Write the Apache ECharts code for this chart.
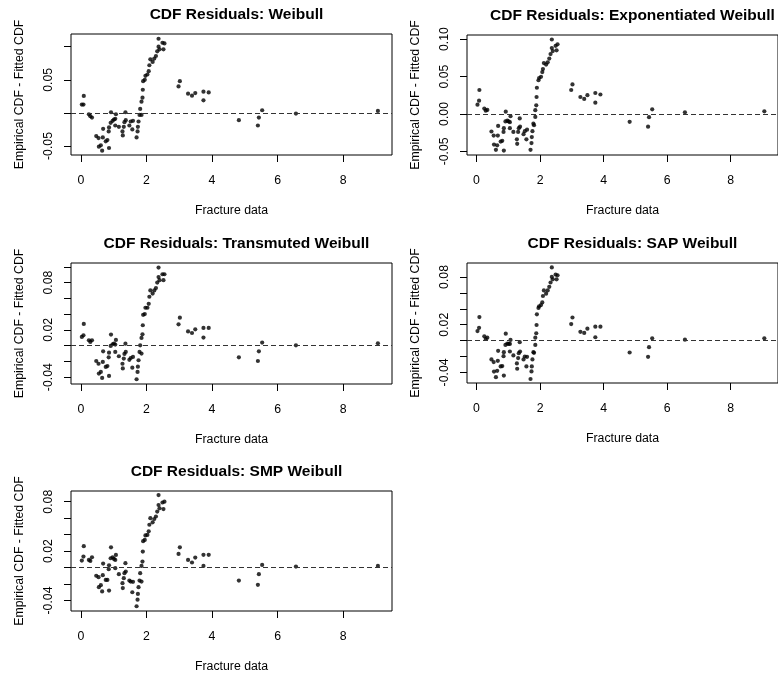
<!DOCTYPE html>
<html><head><meta charset="utf-8">
<script src="https://cdn.jsdelivr.net/npm/echarts@6/dist/echarts.min.js"></script>
<style>html,body{margin:0;padding:0;background:#fff}#c{width:778px;height:678px}</style>
</head><body><div id="c"></div>
<script>
// Fracture data (x values shared by all panels)
const fractureData = [0.03,0.08,0.09,0.245,0.29,0.34,0.47,0.54,0.55,0.61,0.65,0.67,0.68,0.76,0.81,0.85,0.86,0.86,0.91,0.92,
  0.97,1.01,1.05,1.07,1.05,1.16,1.27,1.28,1.31,1.33,1.36,1.37,1.48,1.52,1.57,1.59,1.70,1.73,1.74,1.76,
  1.79,1.81,1.85,1.85,1.88,1.89,1.90,1.95,1.97,2.03,2.07,2.09,2.12,2.19,2.24,2.29,2.33,2.37,2.37,2.40,
  2.49,2.52,2.55,2.98,3.02,3.27,3.39,3.49,3.74,3.74,3.90,4.82,5.40,5.43,5.53,6.56,9.06];

const resWeibull = [0.0126,0.0126,0.0257,-0.002,-0.005,-0.007,-0.035,-0.038,-0.051,-0.049,-0.057,-0.037,-0.024,-0.043,-0.041,-0.028,-0.022,-0.053,-0.015,0.001,
  -0.012,-0.010,-0.009,-0.002,-0.019,-0.021,-0.028,-0.034,-0.021,-0.014,0.001,-0.011,-0.019,-0.013,-0.025,-0.012,-0.037,-0.028,-0.021,-0.013,
  -0.003,0.006,-0.003,0.017,0.023,0.035,0.048,0.050,0.056,0.058,0.063,0.072,0.081,0.077,0.082,0.086,0.093,0.100,0.112,0.096,
  0.106,0.096,0.105,0.040,0.048,0.029,0.026,0.030,0.032,0.019,0.031,-0.011,-0.019,-0.007,0.004,-0.001,0.003];

const resExpWeibull = [0.0124,0.0177,0.032,0.0071,0.0044,0.0053,-0.0235,-0.029,-0.041,-0.048,-0.042,-0.029,-0.016,-0.037,-0.036,-0.024,-0.019,-0.049,-0.010,0.003,
  -0.009,-0.010,-0.011,-0.003,-0.019,-0.024,-0.034,-0.040,-0.024,-0.019,-0.006,-0.017,-0.027,-0.023,-0.034,-0.021,-0.048,-0.039,-0.031,-0.023,
  -0.013,-0.015,-0.004,0.005,0.0115,0.0226,0.035,0.045,0.048,0.0496,0.056,0.060,0.068,0.066,0.069,0.074,0.080,0.088,0.0995,0.084,
  0.091,0.085,0.093,0.032,0.0394,0.0226,0.020,0.025,0.028,0.015,0.026,-0.0106,-0.017,-0.0044,0.0062,0.0022,0.0035];

const resTransWeibull = [0.011,0.013,0.0275,0.0068,0.0047,0.0068,-0.0195,-0.023,-0.0355,-0.0334,-0.041,-0.0207,-0.0072,-0.027,-0.026,-0.0148,-0.0089,-0.0385,-0.0004,0.014,
  0.0017,0.0025,0.0013,0.0072,-0.008,-0.0135,-0.023,-0.029,-0.0165,-0.0106,0.0025,-0.008,-0.018,-0.0157,-0.028,-0.0144,-0.0427,-0.0334,-0.0267,-0.0186,
  -0.008,0.0004,-0.0101,0.0097,0.0144,0.0258,0.039,0.040,0.048,0.048,0.053,0.062,0.070,0.066,0.070,0.073,0.080,0.087,0.099,0.083,
  0.0905,0.083,0.0905,0.027,0.0355,0.018,0.016,0.0207,0.0224,0.0102,0.0224,-0.0148,-0.0195,-0.0072,0.0038,0.0004,0.003];

const resSAPWeibull = [0.012,0.016,0.0296,0.0054,0.002,0.0037,-0.0237,-0.027,-0.039,-0.046,-0.038,-0.0254,-0.0129,-0.0325,-0.032,-0.0196,-0.0146,-0.044,-0.0054,0.0087,
  -0.0037,-0.0042,-0.0042,0.0008,-0.0137,-0.0187,-0.0287,-0.0354,-0.022,-0.0158,-0.002,-0.0137,-0.0237,-0.020,-0.0325,-0.0204,-0.0483,-0.0387,-0.0325,-0.0237,
  -0.0146,-0.0154,-0.0054,0.0037,0.0092,0.0196,0.033,0.041,0.043,0.0446,0.048,0.056,0.063,0.059,0.063,0.0675,0.073,0.080,0.092,0.077,
  0.083,0.077,0.082,0.0208,0.029,0.011,0.0096,0.015,0.0175,0.0042,0.0175,-0.015,-0.0204,-0.0083,0.0029,0.0012,0.0029];

const resSMPWeibull = [0.0085,0.0133,0.026,0.0093,0.008,0.0125,-0.010,-0.0117,-0.0238,-0.0214,-0.029,-0.0093,0.0048,-0.015,-0.015,-0.002,0.0028,-0.028,0.0113,0.0246,
  0.0125,0.0105,0.0093,0.0153,-0.0008,-0.0081,-0.019,-0.025,-0.0129,-0.0069,0.0053,-0.0048,-0.0158,-0.017,-0.030,-0.0174,-0.047,-0.039,-0.032,-0.0238,
  -0.0158,-0.0069,-0.017,0.002,0.0073,0.0194,0.032,0.0335,0.039,0.0396,0.044,0.052,0.060,0.055,0.059,0.062,0.068,0.076,0.088,0.072,
  0.079,0.071,0.080,0.0166,0.0246,0.0093,0.0061,0.0121,0.0154,0.002,0.0154,-0.0158,-0.021,-0.0081,0.0032,0.0012,0.002];

const panelTitles = ["CDF Residuals: Weibull","CDF Residuals: Exponentiated Weibull","CDF Residuals: Transmuted Weibull","CDF Residuals: SAP Weibull","CDF Residuals: SMP Weibull"];
const xAxisTitle = "Fracture data";
const yAxisTitle = "Empirical CDF - Fitted CDF";
const xTicks = [0,2,4,6,8];
const yTicks1 = [-0.05,0,0.05,0.10];          const yLabels1 = [-0.05,0.05];
const yTicks2 = [-0.05,0,0.05,0.10];          const yLabels2 = [-0.05,0,0.05,0.10];
const yTicks3 = [-0.04,-0.02,0,0.02,0.04,0.06,0.08,0.10]; const yLabels3 = [-0.04,0.02,0.08];
const yTicks4 = [-0.04,-0.02,0,0.02,0.04,0.06,0.08];      const yLabels4 = [-0.04,0.02,0.08];
const yTicks5 = [-0.04,-0.02,0,0.02,0.04,0.06,0.08];      const yLabels5 = [-0.04,0.02,0.08];

const seriesList = [resWeibull,resExpWeibull,resTransWeibull,resSAPWeibull,resSMPWeibull];
const yTickList = [yTicks1,yTicks2,yTicks3,yTicks4,yTicks5];
const yLabelList = [yLabels1,yLabels2,yLabels3,yLabels4,yLabels5];

// layout (pixels) and axis ranges
const layout = [
  {left:71, top:34, width:321, height:121, ymin:-0.0636, ymax:0.1192},
  {left:467, top:35, width:321, height:120, ymin:-0.0549, ymax:0.1055},
  {left:71, top:263, width:321, height:121, ymin:-0.0487, ymax:0.1048},
  {left:467, top:263, width:321, height:120, ymin:-0.0533, ymax:0.0975},
  {left:71, top:491, width:321, height:120, ymin:-0.0528, ymax:0.093}
];
const XMIN = -0.30, XMAX = 9.49;
const FONT = "'Liberation Sans', Arial, sans-serif";

const grids = [], xAxes = [], yAxes = [], series = [], titles = [];
layout.forEach((L, i) => {
  grids.push({left:L.left, top:L.top, width:L.width, height:L.height, show:true,
    borderColor:'#000', borderWidth:1, backgroundColor:'transparent', containLabel:false});
  xAxes.push({type:'value', gridIndex:i, min:XMIN, max:XMAX, position:'bottom',
    axisLine:{show:false, onZero:false}, splitLine:{show:false},
    axisTick:{show:true, length:7, inside:false, customValues:xTicks, lineStyle:{color:'#000'}},
    axisLabel:{customValues:xTicks, margin:20, color:'#000', fontFamily:FONT, fontSize:12.3},
    name:xAxisTitle, nameLocation:'middle', nameGap:50,
    nameTextStyle:{color:'#000', fontFamily:FONT, fontSize:12.3}});
  yAxes.push({type:'value', gridIndex:i, min:L.ymin, max:L.ymax, position:'left',
    axisLine:{show:false, onZero:false}, splitLine:{show:false},
    axisTick:{show:true, length:7, inside:false, customValues:yTickList[i], lineStyle:{color:'#000'}},
    axisLabel:{customValues:yLabelList[i], rotate:90, margin:16, color:'#000', fontFamily:FONT, fontSize:12.3,
      formatter:(v)=>v.toFixed(2)},
    name:yAxisTitle, nameLocation:'middle', nameGap:45,
    nameTextStyle:{color:'#000', fontFamily:FONT, fontSize:12.3}});
  series.push({type:'scatter', xAxisIndex:i, yAxisIndex:i, symbol:'circle', symbolSize:4.2,
    itemStyle:{color:'#000'}, silent:true,
    data:fractureData.map((x,k)=>[x, seriesList[i][k]]),
    markLine:{silent:true, symbol:['none','none'], label:{show:false},
      lineStyle:{type:[5,3], color:'#333', width:1}, data:[{yAxis:0}]}});
  titles.push({text:panelTitles[i], left:L.left + L.width/2, textAlign:'center', top:L.top - 32,
    textStyle:{fontFamily:FONT, fontSize:15.5, fontWeight:'bold', color:'#000'}});
});

const chart = echarts.init(document.getElementById('c'), null, {renderer:'canvas'});
chart.setOption({animation:false, backgroundColor:'#fff', title:titles, grid:grids, xAxis:xAxes, yAxis:yAxes, series:series});
</script>
</body></html>
